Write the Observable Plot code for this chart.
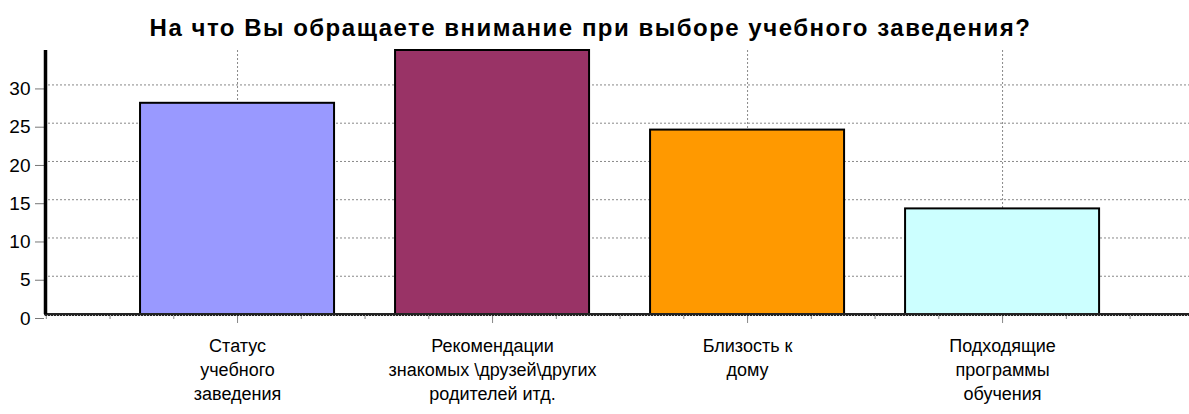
<!DOCTYPE html>
<html>
<head>
<meta charset="utf-8">
<script src="https://cdn.jsdelivr.net/npm/d3@7"></script>
<script src="https://cdn.jsdelivr.net/npm/@observablehq/plot@0.6"></script>
<style>
  html, body { margin: 0; padding: 0; background: #fff; }
  #title {
    height: 40px; box-sizing: border-box; padding-top: 16px;
    width: 1189px;
    font: bold 24px "Liberation Sans", Arial, sans-serif; line-height: 1;
    letter-spacing: 1.5px; text-align: center; color: #000;
    position: relative; left: -4px;
  }
</style>
</head>
<body>
<div id="title">На что Вы обращаете внимание при выборе учебного заведения?</div>
<div id="chart"></div>
<script>
const categories = ["Статус\nучебного\nзаведения", "Рекомендации\nзнакомых \\друзей\\других\nродителей итд.", "Близость к\nдому", "Подходящие\nпрограммы\nобучения"];
const values = [27.6, 34.5, 24.1, 13.8];
const colors = ["#9999FF", "#993366", "#FF9900", "#CCFFFF"];
const yTicks = [0, 5, 10, 15, 20, 25, 30];

const data = categories.map((c, i) => ({pos: i + 1, label: c, value: values[i], color: colors[i]}));
const positions = data.map(d => d.pos);
const minorTicks = d3.range(1, 19).map(k => k * 0.25);

const narrow = "'Liberation Sans Narrow', 'Arial Narrow', 'Liberation Sans', sans-serif";

const chart = Plot.plot({
  width: 1189,
  height: 374,
  marginTop: 10,
  marginBottom: 100,
  marginLeft: 44,
  marginRight: 0,
  style: {fontFamily: narrow, fontSize: "18px", color: "#000", background: "#fff", overflow: "visible"},
  x: {type: "linear", domain: [0.243, 4.733], axis: null},
  y: {domain: [0, 34.5], axis: null},
  marks: [
    Plot.gridY(yTicks.filter(t => t > 0), {stroke: "#888", strokeOpacity: 1, strokeDasharray: "2,2"}),
    Plot.gridX(positions, {stroke: "#888", strokeOpacity: 1, strokeDasharray: "2,2"}),
    Plot.rectY(data, {x1: d => d.pos - 0.5, x2: d => d.pos + 0.5, y1: 0, y2: "value", fill: "color", stroke: "#000", strokeWidth: 2, insetLeft: 30.5, insetRight: 30.5}),
    Plot.axisY({ticks: yTicks, tickSize: 9, tickPadding: 5, stroke: "#777", fill: "#000", fontSize: 19, dy: 4, label: null}),
    Plot.axisX({ticks: minorTicks, tickSize: 5, tickFormat: () => "", stroke: "#888", label: null}),
    Plot.axisX({ticks: positions, tickSize: 9, tickFormat: () => "", stroke: "#888", label: null}),
    Plot.ruleY([0], {stroke: "#222", strokeWidth: 3}),
    Plot.ruleY([0], {stroke: "#bbb", strokeWidth: 1, strokeDasharray: "1,2", dy: 1}),
    Plot.ruleX([0.243], {y1: 0, y2: 34.5, stroke: "#000", strokeWidth: 3.5, dx: 1}),
    Plot.text(data, {x: "pos", y: 0, text: "label", lineAnchor: "top", dy: 20, fontSize: 18, lineHeight: 1.35, fill: "#000"})
  ]
});
document.getElementById("chart").appendChild(chart);
</script>
</body>
</html>
